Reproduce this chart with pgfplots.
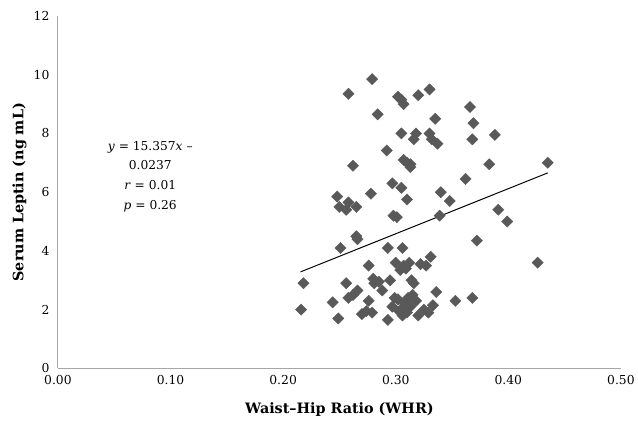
\documentclass[border=0pt]{standalone}
\usepackage{pgfplots}
\pgfplotsset{compat=1.18}
\usepackage{fontspec}
\setmainfont{DejaVu Serif}
\definecolor{markgray}{HTML}{595959}
\definecolor{axisgray}{HTML}{A6A6A6}
\begin{document}
\begin{tikzpicture}
\begin{axis}[
  scale only axis, width=564bp, height=353bp,
  xmin=0, xmax=0.5, ymin=0, ymax=12,
  axis lines=left, axis line style={axisgray, line width=0.9pt, -},
  xtick={0,0.1,0.2,0.3,0.4,0.5}, ytick={0,2,4,6,8,10,12},
  major tick length=0pt,
  /pgf/number format/assume math mode=true,
  tick label style={font=\fontsize{12.4}{14}\selectfont},
  yticklabel style={xshift=-5bp},
  xticklabel style={yshift=-3bp, /pgf/number format/.cd, fixed, fixed zerofill, precision=2},
  xlabel={\textbf{Waist–Hip Ratio (WHR)}},
  ylabel={\textbf{Serum Leptin (ng mL)}},
  label style={font=\fontsize{14.4}{16}\selectfont},
  xlabel style={at={(axis description cs:0.5,-0.118)}, anchor=center},
  ylabel style={at={(axis description cs:-0.068,0.5)}, anchor=center},
  clip=false,
]
\addplot[only marks, mark=square*, mark size=4pt, mark options={rotate=45, fill=markgray, draw=markgray}] coordinates {
(0.258,9.35)(0.279,9.85)(0.284,8.65)(0.292,7.42)(0.302,9.25)(0.305,9.15)(0.307,9.0)
(0.305,8.0)(0.307,7.1)(0.313,6.95)(0.316,7.8)(0.318,8.0)(0.320,9.3)(0.330,9.5)
(0.330,8.0)(0.332,7.8)(0.335,8.5)(0.337,7.65)(0.366,8.9)(0.369,8.35)(0.368,7.8)
(0.388,7.95)(0.383,6.95)(0.435,7.0)(0.310,7.0)
(0.248,5.85)(0.250,5.5)(0.256,5.4)(0.258,5.65)(0.262,6.9)(0.265,5.5)(0.251,4.1)
(0.265,4.5)(0.266,4.4)(0.278,5.95)(0.297,6.3)(0.298,5.2)(0.301,5.15)(0.305,6.15)
(0.310,5.75)(0.313,6.85)(0.340,6.0)(0.339,5.2)(0.348,5.7)(0.362,6.45)(0.372,4.35)
(0.391,5.4)(0.399,5.0)(0.293,4.1)(0.306,4.1)
(0.216,2.0)(0.218,2.9)(0.244,2.25)(0.249,1.7)(0.256,2.9)(0.258,2.4)(0.262,2.5)
(0.266,2.65)(0.270,1.85)(0.274,1.95)(0.276,2.3)(0.276,3.5)(0.280,3.05)(0.281,2.9)
(0.279,1.9)(0.285,2.95)(0.288,2.65)(0.293,1.65)(0.295,3.0)(0.297,2.1)(0.300,3.6)
(0.302,2.35)(0.304,3.35)(0.305,2.0)(0.306,1.8)(0.307,3.5)(0.308,2.2)(0.309,3.4)
(0.310,1.9)(0.311,2.4)(0.312,3.6)(0.313,2.1)(0.314,3.0)(0.315,2.5)(0.316,2.9)
(0.318,2.3)(0.320,1.8)(0.322,3.55)(0.325,2.0)(0.327,3.5)(0.329,1.9)(0.331,3.8)
(0.333,2.15)(0.336,2.6)(0.353,2.3)(0.368,2.4)(0.426,3.6)(0.303,1.95)(0.299,2.4)
};
\addplot[black, line width=1pt] coordinates {(0.2155,3.286)(0.435,6.657)};
\node[align=center, font=\fontsize{12.3}{20}\selectfont] at (axis cs:0.082,6.53)
  {\textit{y} = 15.357\textit{x} –\\0.0237\\\textit{r} = 0.01\\\textit{p} = 0.26};
\end{axis}
\useasboundingbox ([shift={(-58bp,-58bp)}]current axis.south west) rectangle ([shift={(16bp,16bp)}]current axis.north east);
\end{tikzpicture}
\end{document}
